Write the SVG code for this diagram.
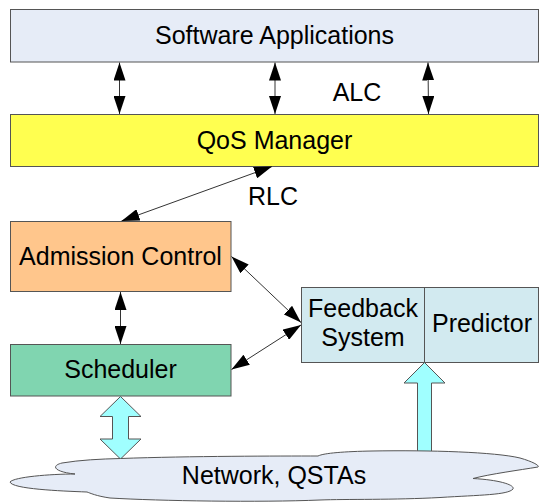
<svg xmlns="http://www.w3.org/2000/svg" width="540" height="502" viewBox="0 0 540 502">
<style>
.box{stroke:#555;stroke-width:1}
.t{font-family:"Liberation Sans",Arial,sans-serif;font-size:25px;fill:#000;text-anchor:middle}
.c{stroke:#333;stroke-width:1;fill:none;marker-start:url(#ah);marker-end:url(#ah)}
.fat{fill:#A0FFFF;stroke:#555;stroke-width:1}
</style>
<defs>
<marker id="ah" viewBox="0 0 18 12" refX="18" refY="6" markerWidth="18" markerHeight="12" markerUnits="userSpaceOnUse" orient="auto-start-reverse">
<path d="M0,0 L18,6 L0,12 Z" fill="#000"/>
</marker>
</defs>
<rect width="540" height="502" fill="#fff"/>
<g id="software-applications">
<rect class="box" x="10.5" y="9.5" width="528" height="52.5" fill="#E6ECF7"/>
<text class="t" x="274.5" y="44">Software Applications</text>
</g>
<g id="qos-manager">
<rect class="box" x="10.5" y="114.5" width="528" height="52" fill="#FFFF50"/>
<text class="t" x="274.5" y="148.5">QoS Manager</text>
</g>
<g id="admission-control">
<rect class="box" x="10.5" y="221.5" width="220.5" height="70" fill="#FFC68C"/>
<text class="t" x="120.5" y="264.5">Admission Control</text>
</g>
<g id="scheduler">
<rect class="box" x="10.5" y="344.5" width="220.5" height="51.5" fill="#80D5B0"/>
<text class="t" x="120.5" y="377.5">Scheduler</text>
</g>
<g id="feedback-predictor">
<rect class="box" x="301.5" y="287.5" width="237" height="75" fill="#D2EAF0"/>
<line x1="424.5" y1="287.5" x2="424.5" y2="362.5" stroke="#555" stroke-width="1"/>
<text class="t" x="363" y="316.5">Feedback</text>
<text class="t" x="363" y="346">System</text>
<text class="t" x="482" y="331.5">Predictor</text>
</g>
<g id="connectors">
<line class="c" x1="119.5" y1="62.5" x2="119.5" y2="114"/>
<line class="c" x1="275" y1="62.5" x2="275" y2="114"/>
<line class="c" x1="428" y1="62.5" x2="428.5" y2="114"/>
<line class="c" x1="272" y1="166.5" x2="121.5" y2="221"/>
<line class="c" x1="120.5" y1="292" x2="120.5" y2="344"/>
<line class="c" x1="231.5" y1="256.5" x2="301" y2="322.5"/>
<line class="c" x1="301" y1="325" x2="231.5" y2="369.5"/>
<polygon class="fat" points="120.5,396.5 141,416.5 128.5,416.5 128.5,439 141,439 120.5,459 100,439 112.5,439 112.5,416.5 100,416.5"/>
<polygon class="fat" points="424.5,362.5 445,383 431.5,383 431.5,452 417.5,452 417.5,383 404,383"/>
</g>
<g id="network-qstas">
<path d="M10,482 C14,477 50,474 75,474 C55,472 50,466 62,463 C80,460 100,459 120.5,458.5 C190,456 280,456 318,456 C324,453 345,451.5 372,451 C430,450 495,452 520,458 C534,462 540,466 538,467 C520,470 490,474 473,478.5 C500,480 515,485 513,489 C508,495 480,495 440,497.5 C395,500 345,499 320,500 C260,502.5 160,501 110,498 C96,496 90,493 87,492 C60,491 12,489 10,482 Z" fill="#E6ECF7" stroke="#555" stroke-width="1"/>
<text class="t" x="274" y="483.5">Network, QSTAs</text>
</g>
<text class="t" x="357" y="100.5">ALC</text>
<text class="t" x="273" y="205">RLC</text>
</svg>
